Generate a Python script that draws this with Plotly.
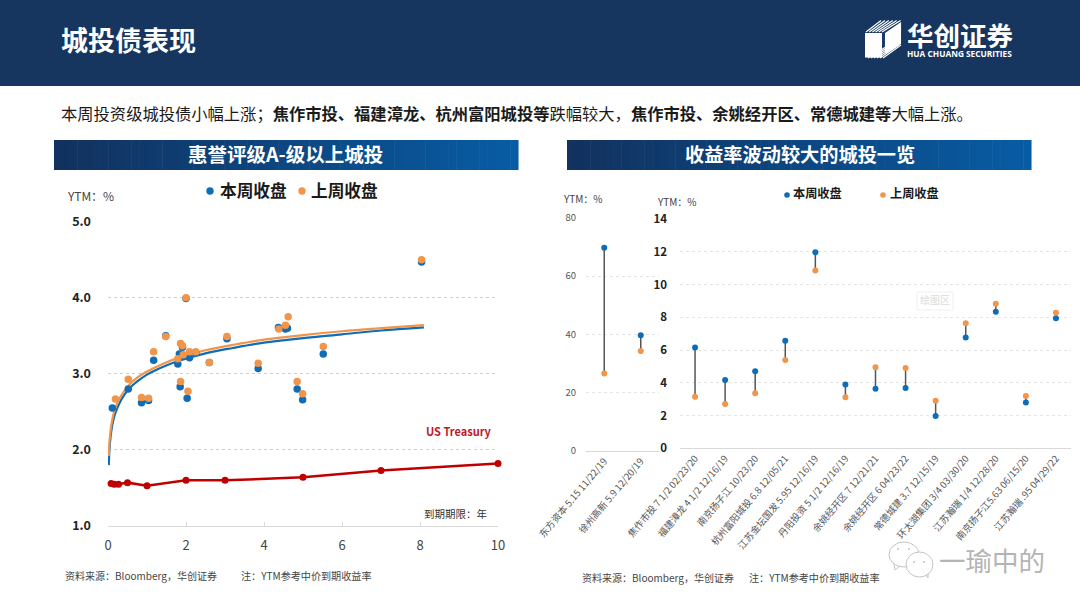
import plotly.graph_objects as go

FONT = "Noto Sans CJK SC"
BLUE, ORANGE, RED = "#0f6cb6", "#f0954a", "#c00000"

# ---- left chart data ----
cur_x = [0.52,1.17,1.48,1.83,1.91,1.79,2.09,2.25,2.0,1.85,2.03,0.86,1.04,0.11,2.6,3.05,3.85,4.37,4.55,4.6,5.52,4.85,4.99,8.04,1.93]
cur_y = [2.80,3.18,3.50,3.26,3.35,3.13,3.21,3.28,3.99,2.83,2.68,2.62,2.65,2.55,3.15,3.46,3.07,3.61,3.59,3.60,3.26,2.80,2.66,4.47,3.24]
prev_x = [0.52,1.17,1.48,1.86,1.91,1.79,2.09,2.25,2.0,1.86,2.05,0.86,1.04,0.19,2.6,3.05,3.85,4.38,4.55,4.62,5.52,4.85,4.99,8.04,1.93]
prev_y = [2.93,3.29,3.49,3.40,3.37,3.20,3.29,3.29,4.00,2.90,2.77,2.69,2.68,2.67,3.15,3.49,3.14,3.59,3.64,3.75,3.36,2.90,2.74,4.50,3.25]
curve_x = [0.02,0.04,0.07,0.1,0.15,0.2,0.3,0.4,0.55,0.75,1,1.4,1.8,2.5,3.2,4,5,6,7,8.1]
curve_cur = [1.80,2.03,2.19,2.30,2.42,2.50,2.62,2.71,2.81,2.90,2.99,3.09,3.17,3.27,3.34,3.41,3.47,3.52,3.57,3.61]
curve_prev = [1.92,2.12,2.27,2.37,2.49,2.57,2.68,2.76,2.86,2.95,3.03,3.13,3.21,3.31,3.38,3.45,3.51,3.56,3.60,3.64]
ust_x = [0.08,0.16,0.27,0.5,1,2,3,5,7,10]
ust_y = [1.56,1.55,1.55,1.57,1.53,1.60,1.60,1.64,1.73,1.82]

# ---- right chart data ----
cats_a = ["东方资本 5.15 11/22/19","徐州高新 5.9 12/20/19"]
cur_a = [69.7,39.7]
prev_a = [26.6,34.3]
cats_b = ["焦作市投 7 1/2 02/23/20","福建漳龙 4 1/2 12/16/19","南京扬子江 10/23/20","杭州富阳城投 6.8 12/05/21",
          "江苏金坛国发 5.95 12/16/19","丹阳投资 5 1/2 12/16/19","余姚经开区 7 12/21/21","余姚经开区 6 04/23/22",
          "常德城建 3.7 12/15/19","环太湖集团 3/4 03/30/20","江苏瀚瑞 1/4 12/28/20","南京扬子江5.63 06/15/20","江苏瀚瑞 .95 04/29/22"]
cur_b = [6.15,4.17,4.70,6.57,11.97,3.89,3.64,3.68,1.97,6.76,8.34,2.79,7.94]
prev_b = [3.15,2.71,3.36,5.39,10.85,3.11,4.95,4.90,2.91,7.63,8.83,3.19,8.28]

W, H = 1080, 608
px = lambda x: x / W
py = lambda y: 1 - y / H
NAVY = "#16365f"

fig = go.Figure()

# left
fig.add_trace(go.Scatter(x=curve_x, y=curve_cur, mode="lines", line=dict(color=BLUE, width=2.2, shape="spline"), showlegend=False, xaxis="x", yaxis="y"))
fig.add_trace(go.Scatter(x=curve_x, y=curve_prev, mode="lines", line=dict(color=ORANGE, width=2.2, shape="spline"), showlegend=False, xaxis="x", yaxis="y"))
fig.add_trace(go.Scatter(x=cur_x, y=cur_y, mode="markers", name="本周收盘", marker=dict(color=BLUE, size=7.5), showlegend=False, xaxis="x", yaxis="y"))
fig.add_trace(go.Scatter(x=prev_x, y=prev_y, mode="markers", name="上周收盘", marker=dict(color=ORANGE, size=7.5), showlegend=False, xaxis="x", yaxis="y"))
fig.add_trace(go.Scatter(x=ust_x, y=ust_y, mode="lines+markers", line=dict(color=RED, width=2.5), marker=dict(color=RED, size=7), showlegend=False, xaxis="x", yaxis="y", cliponaxis=False))

# right: connector stems and markers
def stems(cats, a, b, xa, ya):
    xs, ys = [], []
    for c, p, q in zip(cats, a, b):
        xs += [c, c, None]
        ys += [p, q, None]
    fig.add_trace(go.Scatter(x=xs, y=ys, mode="lines", line=dict(color="#555555", width=1.5), showlegend=False, xaxis=xa, yaxis=ya))

stems(cats_a, cur_a, prev_a, "x2", "y2")
stems(cats_b, cur_b, prev_b, "x3", "y3")
fig.add_trace(go.Scatter(x=cats_a, y=cur_a, mode="markers", marker=dict(color=BLUE, size=6), showlegend=False, xaxis="x2", yaxis="y2"))
fig.add_trace(go.Scatter(x=cats_a, y=prev_a, mode="markers", marker=dict(color=ORANGE, size=6), showlegend=False, xaxis="x2", yaxis="y2"))
fig.add_trace(go.Scatter(x=cats_b, y=cur_b, mode="markers", name="本周收盘", marker=dict(color=BLUE, size=6), showlegend=False, xaxis="x3", yaxis="y3"))
fig.add_trace(go.Scatter(x=cats_b, y=prev_b, mode="markers", name="上周收盘", marker=dict(color=ORANGE, size=6), showlegend=False, xaxis="x3", yaxis="y3"))

grid = dict(showgrid=True, gridcolor="#d0d0d0", griddash="dot", gridwidth=1, zeroline=False, showline=False, automargin=False)

shapes = [dict(type="rect", xref="paper", yref="paper", x0=0, x1=1, y0=py(86), y1=1, fillcolor=NAVY, line_width=0, layer="below")]

# section bars: horizontal colour steps
def bar(x0, x1, y0, y1):
    n = 60
    c0, c1 = (18, 50, 95), (8, 92, 164)
    for i in range(n):
        t = i / (n - 1)
        col = tuple(int(c0[k] + (c1[k] - c0[k]) * t) for k in range(3))
        a = x0 + (x1 - x0) * i / n
        b = x0 + (x1 - x0) * (i + 1) / n
        shapes.append(dict(type="rect", xref="paper", yref="paper", x0=px(a), x1=px(b) + 0.0005, y0=py(y1), y1=py(y0),
                           fillcolor="rgb(%d,%d,%d)" % col, line_width=0, layer="below"))
bar(54, 518, 140, 170)
bar(567, 1031, 140, 170)

# logo
def path(points, fill, line=None):
    d = "M " + " L ".join("%.4f,%.4f" % (px(a), py(b)) for a, b in points) + " Z"
    shapes.append(dict(type="path", xref="paper", yref="paper", path=d, fillcolor=fill, line=dict(color=line or fill, width=1 if line else 0)))
def seg(a, b, c, d):
    shapes.append(dict(type="line", xref="paper", yref="paper", x0=px(a), y0=py(b), x1=px(c), y1=py(d), line=dict(color="#ffffff", width=1.2)))
path([(865,33),(882,33),(882,57.5),(865,57.5)], "#ffffff")
path([(885,33),(901,22),(901,44),(885,54)], "#ffffff")
for i in range(6):
    seg(866+3.2*i, 32, 881+3.9*i, 20.5)
    seg(868+3*i, 58, 889+2.4*i, 45)

# legends drawn by hand so the key-to-label gap matches
def dot(cx, cy, r, color):
    shapes.append(dict(type="circle", xref="paper", yref="paper", x0=px(cx-r), x1=px(cx+r), y0=py(cy+r), y1=py(cy-r), fillcolor=color, line_width=0))
dot(210, 191, 3.7, BLUE)
dot(302, 191, 3.7, ORANGE)
dot(787, 195, 2.8, BLUE)
dot(883, 195, 2.8, ORANGE)

# watermark box
shapes.append(dict(type="rect", xref="paper", yref="paper", x0=px(917), x1=px(953), y0=py(310), y1=py(292), line=dict(color="#efefef", width=1), fillcolor="rgba(0,0,0,0)"))
# wechat bubbles
path([(893,560),(895,570),(901,565)], "#ffffff", "#c4c4c4")
path([(922,570),(928,578),(928,568)], "#ffffff", "#c4c4c4")
for (x0, x1, y0, y1) in [(889, 919, 542, 567), (906, 933, 552, 577)]:
    shapes.append(dict(type="circle", xref="paper", yref="paper", x0=px(x0), x1=px(x1), y0=py(y1), y1=py(y0), line=dict(color="#c4c4c4", width=1), fillcolor="rgba(255,255,255,0.85)"))
for (cx, cy) in [(898, 549), (909, 549), (914, 562), (924, 562)]:
    dot(cx, cy, 1, "#c4c4c4")

def T(x, y, s, size, color="#222222", anchor="left", bold=False, family=FONT):
    dx = -2 if anchor == "left" else 0
    return dict(xref="paper", yref="paper", x=px(x + dx), y=py(y - 1.5), xanchor=anchor, yanchor="middle", showarrow=False,
                text=("<b>%s</b>" % s) if bold else s, font=dict(size=size, color=color, family=family))

ann = [
    T(61, 41, "城投债表现", 27, "#ffffff", bold=True),
    T(907, 36, "华创证券", 26.5, "#ffffff", bold=True),
    T(907, 54.5, "HUA CHUANG SECURITIES", 8.3, "#ffffff", bold=True, family="Open Sans"),
    T(61, 115, "本周投资级城投债小幅上涨；<b>焦作市投、福建漳龙、杭州富阳城投等</b>跌幅较大，<b>焦作市投、余姚经开区、常德城建等</b>大幅上涨。", 16.3, "#1a1a1a"),
    T(285.5, 155, "惠誉评级A-级以上城投", 19.5, "#ffffff", "center", True),
    T(799.5, 155, "收益率波动较大的城投一览", 19.2, "#ffffff", "center", True),
    T(220, 191, "本周收盘", 16.7, "#1a1a1a", bold=True),
    T(311, 191, "上周收盘", 16.7, "#1a1a1a", bold=True),
    T(793, 195, "本周收盘", 12.2, "#1a1a1a", bold=True),
    T(890, 195, "上周收盘", 12.2, "#1a1a1a", bold=True),
    T(67, 197, "YTM：%", 12, "#444444"),
    T(563, 200, "YTM：%", 10, "#444444"),
    T(657, 203, "YTM：%", 10, "#444444"),
    T(426, 432, "US Treasury", 11, "#c0182a", bold=True),
    T(424, 515, "到期期限：年", 10.5, "#333333"),
    T(65, 577, "资料来源：Bloomberg，华创证券", 10, "#444444"),
    T(241, 577, "注：YTM参考中价到期收益率", 10.1, "#444444"),
    T(582, 579, "资料来源：Bloomberg，华创证券", 10, "#444444"),
    T(749, 579, "注：YTM参考中价到期收益率", 10.1, "#444444"),
    T(935, 301, "绘图区", 10, "#dcdcdc", "center"),
    T(939, 561, "一瑜中的", 26.5, "#b4b4b4"),
]

fig.update_layout(
    width=W, height=H, margin=dict(l=0, r=0, t=0, b=0, autoexpand=False), paper_bgcolor="#ffffff", plot_bgcolor="rgba(0,0,0,0)",
    font=dict(family=FONT, color="#333333"), shapes=shapes, annotations=ann, showlegend=False,
    xaxis=dict(domain=[px(108), px(498)], range=[0, 10], dtick=2, anchor="y", showgrid=False, zeroline=False, automargin=False,
               showline=True, linecolor="#d9d9d9", ticks="inside", ticklen=4, tickcolor="#d9d9d9", ticklabelstandoff=7,
               tickfont=dict(size=13, color="#444444")),
    yaxis=dict(domain=[py(526), py(221.7)], range=[1, 5], dtick=1, tickformat=".1f", anchor="x", ticks="", ticklabelstandoff=16,
               tickfont=dict(size=12.5, color="#222222", weight="bold"), **grid),
    xaxis2=dict(domain=[px(586), px(659)], type="category", categoryorder="array", categoryarray=cats_a, range=[-0.5, 1.5],
                anchor="y2", showgrid=False, zeroline=False, showline=True, linecolor="#d9d9d9", ticks="", automargin=False,
                tickangle=-50, tickfont=dict(size=9.5, color="#555555")),
    yaxis2=dict(domain=[py(451), py(217.7)], range=[0, 80], dtick=20, anchor="x2", ticks="", ticklabelstandoff=9,
                tickfont=dict(size=9.5, color="#555555"), **{**grid, "gridcolor": "#e4e4e4"}),
    xaxis3=dict(domain=[px(680), px(1071)], type="category", categoryorder="array", categoryarray=cats_b, range=[-0.5, 12.5],
                anchor="y3", showgrid=False, zeroline=False, showline=True, linecolor="#d9d9d9", ticks="", automargin=False,
                tickangle=-50, tickfont=dict(size=9.5, color="#555555")),
    yaxis3=dict(domain=[py(448.3), py(219)], range=[0, 14], dtick=2, anchor="x3", ticks="", ticklabelstandoff=12,
                tickfont=dict(size=11.5, color="#222222", weight="bold"), **{**grid, "gridcolor": "#e4e4e4"}),
)

fig.write_html("out.html", config=dict(displayModeBar=False),
               post_script="document.body.style.margin='0';document.documentElement.style.overflow='hidden';")
